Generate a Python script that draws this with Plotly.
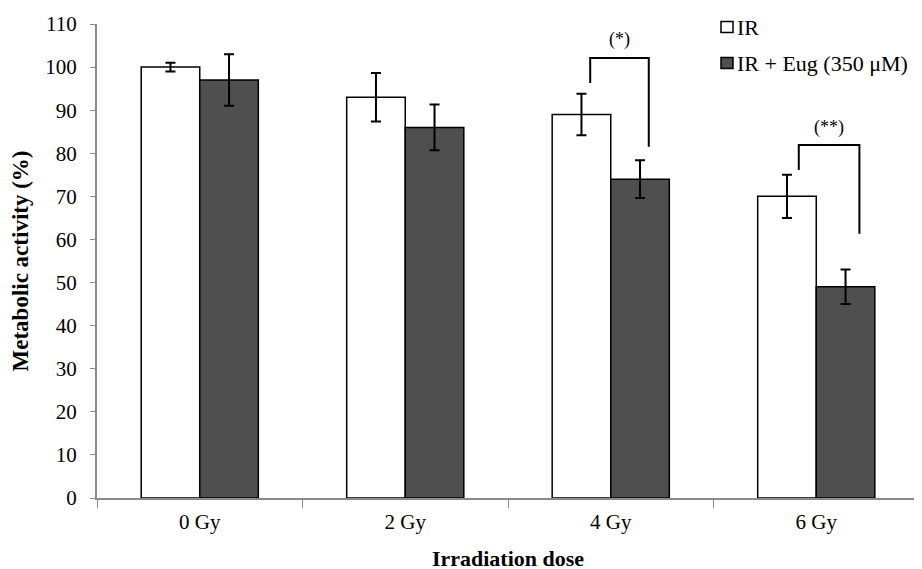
import plotly.graph_objects as go

categories = ["0 Gy", "2 Gy", "4 Gy", "6 Gy"]
ir_values = [100, 93, 89, 70]
ir_errors = [1.0, 5.6, 4.8, 5.0]
eug_values = [97, 86, 74, 49]
eug_errors = [6.0, 5.3, 4.4, 4.0]
series_names = ["IR", "IR + Eug (350 μM)"]
series_colors = ["white", "#4f4f4f"]
y_ticks = list(range(0, 111, 10))

# significance brackets: (category index, left offset, right offset, top, left bottom, right bottom, label, label y)
brackets = [
    (2, -0.10, 0.185, 102.1, 96.3, 81.5, "(*)", 106.4),
    (3, -0.085, 0.21, 81.9, 76.1, 61.3, "(**)", 86.0),
]

font_family = "Liberation Serif, Times New Roman, serif"

# figure geometry (the page adds an 8px body margin)
W, H = 922, 569
OFF = 8
ML, MR, MT, MB = 89, 11, 16, 79
PW, PH = W - ML - MR, H - MT - MB
PLOT_L = OFF + ML
PLOT_B = OFF + H - MB


def px_x(x):
    return (x - PLOT_L) / PW


def px_y(y):
    return (PLOT_B - y) / PH


fig = go.Figure()
fig.add_trace(go.Bar(
    x=categories, y=ir_values, name=series_names[0],
    marker=dict(color=series_colors[0], line=dict(color="black", width=1.5)),
    error_y=dict(type="data", array=ir_errors, color="black", thickness=2, width=5),
))
fig.add_trace(go.Bar(
    x=categories, y=eug_values, name=series_names[1],
    marker=dict(color=series_colors[1], line=dict(color="black", width=1.5)),
    error_y=dict(type="data", array=eug_errors, color="black", thickness=2, width=5),
))

for idx, lo, ro, top, lb, rb, label, ly in brackets:
    xl = idx + lo
    xr = idx + ro
    fig.add_shape(type="path",
                  path=f"M {xl} {lb} L {xl} {top} L {xr} {top} L {xr} {rb}",
                  line=dict(color="black", width=2), xref="x", yref="y")
    fig.add_annotation(x=(xl + xr) / 2, y=ly, text=label, showarrow=False,
                       xref="x", yref="y",
                       font=dict(family=font_family, size=18, color="black"))

# legend drawn by hand (squares + text)
legend_rows = [27, 63]
for name, color, cy in zip(series_names, series_colors, legend_rows):
    fig.add_shape(type="rect", xref="paper", yref="paper",
                  x0=px_x(721), x1=px_x(733), y0=px_y(cy + 5.5), y1=px_y(cy - 5.5),
                  fillcolor=color, line=dict(color="black", width=1.5))
    fig.add_annotation(x=px_x(735), y=px_y(cy), xref="paper", yref="paper",
                       xanchor="left", yanchor="middle", text=name, showarrow=False,
                       font=dict(family=font_family, size=22, color="black"))

fig.update_layout(
    width=W, height=H,
    margin=dict(l=ML, r=MR, t=MT, b=MB),
    plot_bgcolor="white", paper_bgcolor="white",
    barmode="group", bargap=0.43, bargroupgap=0,
    font=dict(family=font_family, size=21, color="black"),
    showlegend=False,
    xaxis=dict(
        range=[-0.5, 3.5], showline=True, linecolor="#8a8a8a", linewidth=2,
        ticks="outside", tickson="boundaries", ticklen=8, tickcolor="#8a8a8a",
        tickwidth=1, showgrid=False, zeroline=False, automargin=False,
        ticklabelstandoff=4,
        tickfont=dict(family=font_family, size=21),
        title=dict(text="<b>Irradiation dose</b>", standoff=17,
                   font=dict(family=font_family, size=22)),
    ),
    yaxis=dict(
        range=[0, 110], tickvals=y_ticks, showline=True, linecolor="#8a8a8a",
        linewidth=2, ticks="outside", ticklen=5, tickcolor="#8a8a8a",
        showgrid=False, zeroline=False, automargin=False,
        ticklabelstandoff=9,
        tickfont=dict(family=font_family, size=21),
        title=dict(text="<b>Metabolic activity (%)</b>", standoff=15,
                   font=dict(family=font_family, size=23)),
    ),
)

fig.write_html("out.html")
